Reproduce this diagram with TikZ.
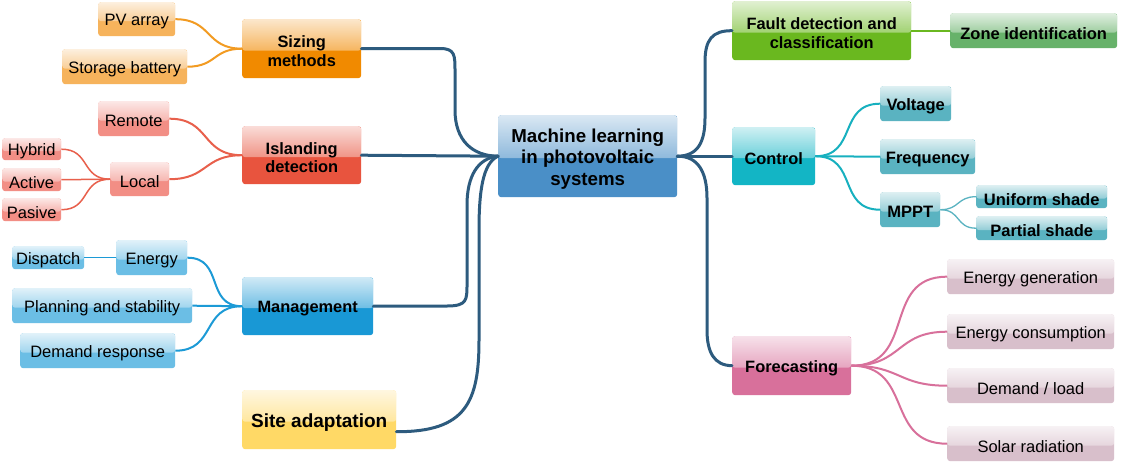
\documentclass[tikz,border=0pt]{standalone}
\usepackage{fontspec}
\setmainfont{Liberation Sans}
\usetikzlibrary{fadings,calc}
\tikzfading[name=glossfade, top color=transparent!20, bottom color=transparent!100]
\definecolor{cCen}{HTML}{4A8FC7}
\definecolor{cSz}{HTML}{F18A00}
\definecolor{cSzL}{HTML}{F6B35C}
\definecolor{cId}{HTML}{E8543E}
\definecolor{cIdL}{HTML}{F28E85}
\definecolor{cMg}{HTML}{1998D5}
\definecolor{cMgL}{HTML}{6BBEE5}
\definecolor{cSt}{HTML}{FFD966}
\definecolor{cFd}{HTML}{6AB81F}
\definecolor{cZn}{HTML}{67B26A}
\definecolor{cCt}{HTML}{13B5C5}
\definecolor{cCtL}{HTML}{5AB3C1}
\definecolor{cFo}{HTML}{D8709B}
\definecolor{cFoL}{HTML}{D8BFCB}
\definecolor{lMain}{HTML}{2D5B7E}
\definecolor{lSz}{HTML}{F29B22}
\definecolor{lId}{HTML}{E8604C}
\definecolor{lMg}{HTML}{1C9AD6}
\definecolor{lFd}{HTML}{6AB820}
\definecolor{lCt}{HTML}{17B0BF}
\definecolor{lFo}{HTML}{D8709B}
\newcommand\fCen{\fontsize{18.7}{21.5}\selectfont\bfseries}
\newcommand\fMain{\fontsize{16.4}{18.6}\selectfont\bfseries}
\newcommand\fLeaf{\fontsize{16.5}{19}\selectfont}
\newcommand\fLeafB{\fontsize{16.5}{19}\selectfont\bfseries}
\newcommand\fSite{\fontsize{19}{22}\selectfont\bfseries}
\tikzset{
  bx/.style={rounded corners=3pt, fill=#1, inner sep=0pt,
    anchor=north west,
    path picture={\fill[white, path fading=glossfade]
      (path picture bounding box.north west) rectangle ([yshift=-2pt]path picture bounding box.east);}},
  txt/.style={inner sep=0pt, align=center, text=black, yshift=-2.5pt},
  mainc/.style={draw=lMain, line width=3pt, line cap=round},
  subc/.style={draw=#1, line width=2pt},
  br/.style={out=0, in=180, looseness=1.3},
}
% #1 colour, #2 name, #3 position, #4 width, #5 height, #6 font, #7 text
\newcommand\bxn[7]{\node[bx=#1, minimum width=#4, minimum height=#5,
  label={[txt, font=#6]center:{#7}}] (#2) at (#3) {};}
\begin{document}
\begin{tikzpicture}[x=1pt, y=-1pt]
\useasboundingbox[fill=white] (0,0) rectangle (1121,466);

% centre
\bxn{cCen}{c}{498,115}{179pt}{82pt}{\fCen}{Machine learning\\in photovoltaic\\systems}

% main branches
\bxn{cSz}{sz}{242,19}{119pt}{59pt}{\fMain}{Sizing\\methods}
\bxn{cId}{id}{242,126}{119pt}{58pt}{\fMain}{Islanding\\detection}
\bxn{cMg}{mg}{242,277}{131pt}{58pt}{\fMain}{Management}
\bxn{cSt}{st}{242,390}{154pt}{59pt}{\fSite}{Site adaptation}
\bxn{cFd}{fd}{732,1}{179pt}{59pt}{\fMain}{Fault detection and\\classification}
\bxn{cCt}{ct}{732,127}{83pt}{58pt}{\fMain}{Control}
\bxn{cFo}{fo}{732,336}{119pt}{59pt}{\fMain}{Forecasting}

% sizing leaves
\bxn{cSzL}{pv}{98,2}{77pt}{34pt}{\fLeaf}{PV array}
\bxn{cSzL}{sb}{62,49}{125pt}{35pt}{\fLeaf}{Storage battery}

% islanding leaves
\bxn{cIdL}{rm}{98,101}{71pt}{35pt}{\fLeaf}{Remote}
\bxn{cIdL}{lc}{110,162}{59pt}{34pt}{\fLeaf}{Local}
\bxn{cIdL}{hy}{2,138}{59pt}{22pt}{\fLeaf}{Hybrid}
\bxn{cIdL}{ac}{2,168}{59pt}{23pt}{\fLeaf}{Active}
\bxn{cIdL}{pa}{2,198}{59pt}{23pt}{\fLeaf}{Pasive}

% management leaves
\bxn{cMgL}{dp}{12,246}{72pt}{23pt}{\fLeaf}{Dispatch}
\bxn{cMgL}{en}{116,240}{71pt}{35pt}{\fLeaf}{Energy}
\bxn{cMgL}{ps}{12,288}{180pt}{35pt}{\fLeaf}{Planning and stability}
\bxn{cMgL}{dr}{20,333}{155pt}{35pt}{\fLeaf}{Demand response}

% fault leaf
\bxn{cZn}{zn}{950,13}{167pt}{35pt}{\fLeafB}{Zone identification}

% control leaves
\bxn{cCtL}{vo}{880,86}{71pt}{35pt}{\fLeafB}{Voltage}
\bxn{cCtL}{fr}{880,139}{95pt}{35pt}{\fLeafB}{Frequency}
\bxn{cCtL}{mp}{880,192}{60pt}{35pt}{\fLeafB}{MPPT}
\bxn{cCtL}{us}{976,185}{131pt}{23pt}{\fLeafB}{Uniform shade}
\bxn{cCtL}{pas}{976,216}{131pt}{24pt}{\fLeafB}{Partial shade}

% forecasting leaves
\bxn{cFoL}{eg}{947,259}{167pt}{35pt}{\fLeaf}{Energy generation}
\bxn{cFoL}{ec}{947,314}{167pt}{35pt}{\fLeaf}{Energy consumption}
\bxn{cFoL}{dl}{947,368}{167pt}{35pt}{\fLeaf}{Demand / load}
\bxn{cFoL}{sr}{947,426}{167pt}{35pt}{\fLeaf}{Solar radiation}

% main connectors (left)
\draw[mainc] (sz.east) -- (440,48.5) .. controls (455,48.5) and (455,55) .. (455,72) -- (455,110) .. controls (455,140) and (472,156) .. (c.west);
\draw[mainc] (id.east) -- (c.west);
\draw[mainc] (mg.east) -- (447,306) .. controls (467,306) and (467,300) .. (467,284) -- (467,205) .. controls (467,176) and (478,158) .. (c.west);
\draw[mainc] ([yshift=-12pt]st.east) .. controls (466,432) and (479,402) .. (479,340) -- (479,230) .. controls (479,190) and (483,163) .. (c.west);
% main connectors (right)
\draw[mainc] (c.east) .. controls (698,156) and (705,142) .. (705,118) -- (705,62) .. controls (705,40) and (712,30.5) .. (fd.west);
\draw[mainc] (c.east) -- (ct.west);
\draw[mainc] (c.east) .. controls (698,156) and (707,172) .. (707,198) -- (707,330) .. controls (707,352) and (714,365.5) .. (fo.west);

% sub connectors
\draw[subc=lSz] (pv.east) to[br] (sz.west);
\draw[subc=lSz] (sb.east) to[br] (sz.west);
\draw[subc=lId] (rm.east) to[br] (id.west);
\draw[subc=lId] (lc.east) to[br] (id.west);
\draw[subc=lId, line width=1.5pt] (hy.east) to[br] (lc.west);
\draw[subc=lId, line width=1.5pt] (ac.east) -- (lc.west);
\draw[subc=lId, line width=1.5pt] (pa.east) to[br] (lc.west);
\draw[subc=lMg] (en.east) to[br] (mg.west);
\draw[subc=lMg] (ps.east) to[br] (mg.west);
\draw[subc=lMg] (dr.east) to[br] (mg.west);
\draw[subc=lMg, line width=1.5pt] (dp.east) -- (en.west);
\draw[subc=lFd] (fd.east) -- (zn.west);
\draw[subc=lCt] (ct.east) to[br] (vo.west);
\draw[subc=lCt] (ct.east) -- (fr.west);
\draw[subc=lCt] (ct.east) to[br] (mp.west);
\draw[subc=cCtL, line width=1.3pt] (mp.east) to[br] (us.west);
\draw[subc=cCtL, line width=1.3pt] (mp.east) to[br] (pas.west);
\draw[subc=lFo] (fo.east) to[br] (eg.west);
\draw[subc=lFo] (fo.east) to[br] (ec.west);
\draw[subc=lFo] (fo.east) to[br] (dl.west);
\draw[subc=lFo] (fo.east) to[br] (sr.west);
\end{tikzpicture}
\end{document}
